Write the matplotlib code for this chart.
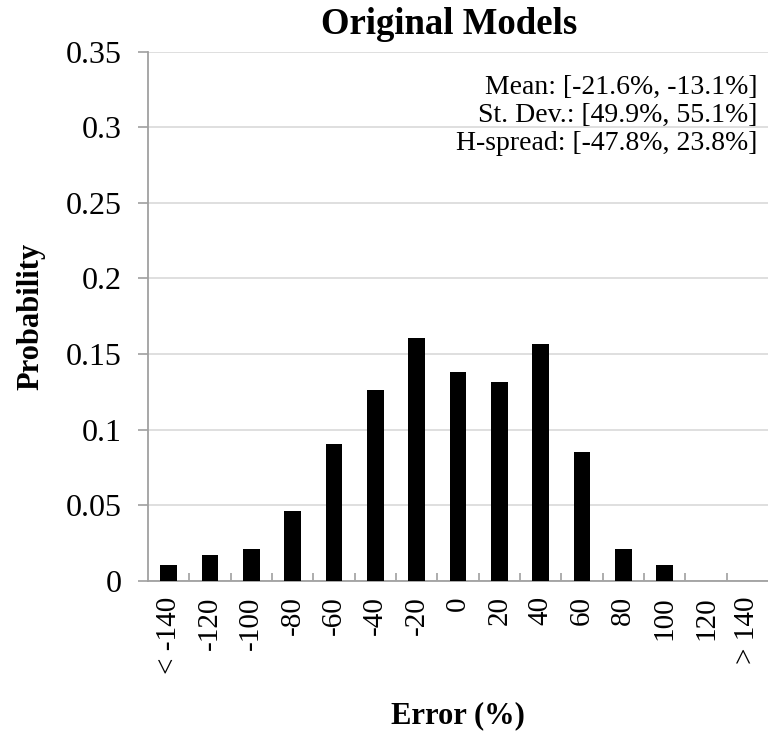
import matplotlib
matplotlib.use("Agg")
import matplotlib.pyplot as plt
import numpy as np

# Error histogram data
categories = ["< -140", "-120", "-100", "-80", "-60", "-40", "-20", "0",
              "20", "40", "60", "80", "100", "120", "> 140"]
probability = [0.0105, 0.0172, 0.0213, 0.0462, 0.0908, 0.1262, 0.1605, 0.1382,
               0.1315, 0.1565, 0.0855, 0.0213, 0.0105, 0.0, 0.0]
y_ticks = [0, 0.05, 0.1, 0.15, 0.2, 0.25, 0.3, 0.35]
y_tick_labels = ["0", "0.05", "0.1", "0.15", "0.2", "0.25", "0.3", "0.35"]
stats_lines = ["Mean: [-21.6%, -13.1%]",
               "St. Dev.: [49.9%, 55.1%]",
               "H-spread: [-47.8%, 23.8%]"]

plt.rcParams['font.family'] = ['Liberation Serif', 'DejaVu Serif']

AXIS_GRAY = '#a0a0a0'
GRID_GRAY = '#d9d9d9'

fig = plt.figure(figsize=(7.68, 7.32), dpi=100)
ax = fig.add_axes([0.1927, 0.2063, 0.8073, 0.7232])

x = np.arange(len(categories))
ax.bar(x, probability, width=0.41, color='black', zorder=3)

ax.set_xlim(-0.5, len(categories) - 0.5)
ax.set_ylim(0, 0.35)

ax.set_yticks(y_ticks)
ax.set_yticklabels(y_tick_labels, fontsize=23)
ax.yaxis.grid(True, color=GRID_GRAY, linewidth=1.2, zorder=0)

ax.set_xticks(x)
ax.set_xticklabels(categories, rotation=90, fontsize=21)
ax.tick_params(axis='x', which='major', length=0, pad=11)
ax.set_xticks(np.arange(0.5, len(categories) - 1, 1.0), minor=True)
ax.tick_params(axis='x', which='minor', direction='in', length=6,
               color=AXIS_GRAY, width=1.2)
ax.tick_params(axis='y', which='major', direction='out', length=7,
               color=AXIS_GRAY, width=1.2, pad=12)

for side in ['top', 'right']:
    ax.spines[side].set_visible(False)
for side in ['left', 'bottom']:
    ax.spines[side].set_color(AXIS_GRAY)
    ax.spines[side].set_linewidth(1.3)

fig.text(449 / 768, 1 - 34 / 732, "Original Models", fontsize=26.5,
         fontweight='bold', ha='center', va='baseline')

ax.set_ylabel("Probability", fontsize=22, fontweight='bold',
              ha='center', va='center')
ax.yaxis.set_label_coords(-0.1887, 0.5)
ax.set_xlabel("Error (%)", fontsize=22, fontweight='bold',
              ha='center', va='center')
ax.xaxis.set_label_coords(0.5, -0.255)

for line, ypos in zip(stats_lines, [0.920, 0.867, 0.814]):
    ax.text(0.9823, ypos, line, transform=ax.transAxes,
            ha='right', va='baseline', fontsize=20)

fig.savefig("out.png", dpi=100)
